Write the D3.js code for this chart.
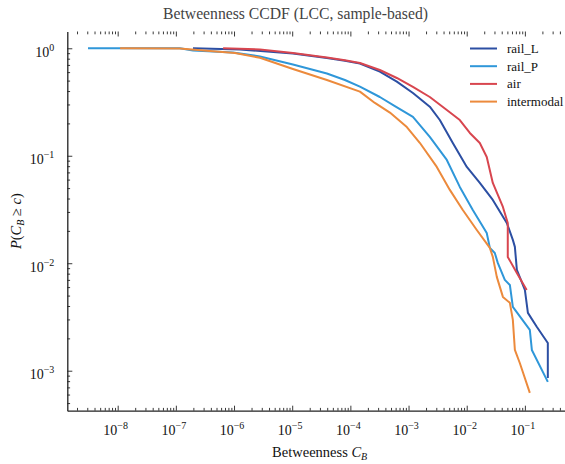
<!DOCTYPE html>
<html>
<head>
<meta charset="utf-8">
<script src="https://cdn.jsdelivr.net/npm/d3@7/dist/d3.min.js"></script>
<style>
  html, body { margin: 0; padding: 0; background: #fff; }
  svg { display: block; }
  text { font-family: "Liberation Serif", "DejaVu Serif", serif; }
</style>
</head>
<body>
<svg id="chart" width="565" height="464"></svg>
<script>
// Betweenness CCDF per network layer (largest connected component, sampled)
const seriesNames = ["rail_L", "rail_P", "air", "intermodal"];
const seriesColors = ["#2c4fa3", "#2f97d9", "#d8464f", "#ec8a3c"];

const railL_x = [1.97e-7, 1.26e-6, 1.03e-5, 3.95e-5, 8.05e-5, 1.46e-4, 3.21e-4, 6.29e-4, 1.19e-3, 2.32e-3, 3.45e-3, 5.77e-3, 0.01004, 0.0168, 0.0281, 0.0489, 0.0621, 0.0673, 0.0728, 0.100, 0.1127, 0.161, 0.248, 0.248];
const railL_y = [1.0, 0.975, 0.895, 0.812, 0.765, 0.722, 0.606, 0.489, 0.384, 0.286, 0.215, 0.1315, 0.0787, 0.0558, 0.0388, 0.0237, 0.0165, 0.0142, 0.00867, 0.00564, 0.00345, 0.00255, 0.00181, 0.000857];

const railP_x = [3.09e-9, 1.17e-7, 1.97e-7, 9.57e-7, 2.79e-6, 1.03e-5, 3.95e-5, 8.05e-5, 1.46e-4, 3.21e-4, 5.82e-4, 1.19e-3, 2.32e-3, 4.55e-3, 7.61e-3, 0.01273, 0.0221, 0.0250, 0.0304, 0.0342, 0.0452, 0.0552, 0.0621, 0.1216, 0.1318, 0.248];
const railP_y = [1.0, 1.0, 0.954, 0.914, 0.839, 0.707, 0.583, 0.507, 0.439, 0.352, 0.290, 0.2296, 0.1496, 0.0914, 0.0513, 0.0313, 0.0191, 0.0139, 0.01247, 0.01007, 0.00700, 0.00628, 0.00393, 0.00240, 0.00156, 0.000787];

const air_x = [6.49e-7, 2.79e-6, 1.03e-5, 3.95e-5, 8.05e-5, 1.46e-4, 3.21e-4, 6.29e-4, 1.19e-3, 2.32e-3, 4.55e-3, 7.61e-3, 0.01132, 0.0168, 0.0221, 0.0281, 0.0419, 0.0508, 0.0508, 0.0728, 0.1074];
const air_y = [1.0, 0.975, 0.904, 0.821, 0.773, 0.730, 0.628, 0.529, 0.4365, 0.352, 0.2667, 0.215, 0.163, 0.1315, 0.0975, 0.0558, 0.0334, 0.0237, 0.01145, 0.00813, 0.00564];

const inter_x = [1.10e-8, 1.17e-7, 3.86e-7, 1.04e-6, 2.79e-6, 1.03e-5, 3.95e-5, 1.46e-4, 2.64e-4, 4.78e-4, 9.35e-4, 1.56e-3, 3.06e-3, 5.13e-3, 8.57e-3, 0.0149, 0.0250, 0.0281, 0.0329, 0.0419, 0.0552, 0.0621, 0.0673, 0.0818, 0.1216];
const inter_y = [1.0, 0.994, 0.944, 0.904, 0.816, 0.642, 0.507, 0.395, 0.310, 0.252, 0.185, 0.132, 0.0787, 0.0481, 0.0313, 0.0204, 0.0139, 0.01145, 0.00747, 0.00486, 0.00428, 0.00297, 0.00156, 0.00118, 0.000622];

const seriesX = [railL_x, railP_x, air_x, inter_x];
const seriesY = [railL_y, railP_y, air_y, inter_y];

const xTickExps = [-8, -7, -6, -5, -4, -3, -2, -1];
const yTickExps = [0, -1, -2, -3];

const titleText = "Betweenness CCDF (LCC, sample-based)";

// Plot frame
const frameL = 67.3, frameR = 572, frameT = 31.5, frameB = 410.7;

const x = d3.scaleLog().domain([Math.pow(10, -8.866), Math.pow(10, -0.19)]).range([frameL, frameR]);
const y = d3.scaleLog().domain([Math.pow(10, -3.372), Math.pow(10, 0.156)]).range([frameB, frameT]);

const svg = d3.select("#chart");

function minorTicks(scale) {
  const [d0, d1] = scale.domain();
  const out = [];
  for (let e = Math.floor(Math.log10(d0)); e <= Math.ceil(Math.log10(d1)); e++) {
    for (let k = 2; k <= 9; k++) {
      const v = k * Math.pow(10, e);
      if (v >= d0 && v <= d1) out.push(v);
    }
  }
  return out;
}
function majorTicks(scale) {
  const [d0, d1] = scale.domain();
  const out = [];
  for (let e = Math.floor(Math.log10(d0)); e <= Math.ceil(Math.log10(d1)); e++) {
    const v = Math.pow(10, e);
    if (v >= d0 && v <= d1) out.push(v);
  }
  return out;
}

const tickColor = "#222";
function drawAxis(gen, scale, transform, keepDomain) {
  const gMaj = svg.append("g").attr("transform", transform)
    .call(gen(scale).tickValues(majorTicks(scale)).tickSizeInner(-5).tickSizeOuter(0).tickFormat(""));
  const gMin = svg.append("g").attr("transform", transform)
    .call(gen(scale).tickValues(minorTicks(scale)).tickSizeInner(-2.8).tickSizeOuter(0).tickFormat(""));
  gMin.select(".domain").remove();
  if (!keepDomain) gMaj.select(".domain").remove();
  else gMaj.select(".domain").attr("stroke", "#222").attr("stroke-width", 1.3);
  [gMaj, gMin].forEach(g => g.selectAll(".tick line").attr("stroke", tickColor).attr("stroke-width", 0.9));
}

// Series lines, clipped to the plot area
svg.append("clipPath").attr("id", "plotclip")
  .append("rect").attr("x", frameL).attr("y", frameT).attr("width", frameR - frameL).attr("height", frameB - frameT);

const line = d3.line().x(d => x(d[0])).y(d => y(d[1]));
const plot = svg.append("g").attr("clip-path", "url(#plotclip)");
seriesNames.forEach((name, i) => {
  const pts = seriesX[i].map((v, j) => [v, seriesY[i][j]]);
  plot.append("path")
    .datum(pts)
    .attr("d", line)
    .attr("fill", "none")
    .attr("stroke", seriesColors[i])
    .attr("stroke-width", 2)
    .attr("stroke-linejoin", "round");
});

// Axes: left & bottom spines, ticks on all four sides pointing inward
drawAxis(d3.axisBottom, x, `translate(0,${frameB})`, true);
drawAxis(d3.axisTop, x, `translate(0,${frameT})`, false);
drawAxis(d3.axisLeft, y, `translate(${frameL},0)`, true);
drawAxis(d3.axisRight, y, `translate(${frameR},0)`, false);

// Tick labels as powers of ten
const labelFont = 14, supFont = 10;
xTickExps.forEach(e => {
  const t = svg.append("text")
    .attr("x", x(Math.pow(10, e)) - 2)
    .attr("y", frameB + 24)
    .attr("text-anchor", "middle")
    .attr("fill", "#111")
    .attr("font-size", labelFont);
  t.append("tspan").text("10");
  t.append("tspan").attr("font-size", supFont).attr("dy", -6).text("\u2212" + Math.abs(e));
});
yTickExps.forEach(e => {
  const t = svg.append("text")
    .attr("x", frameL - 13)
    .attr("y", y(Math.pow(10, e)) + 8.5)
    .attr("text-anchor", "end")
    .attr("fill", "#111")
    .attr("font-size", labelFont);
  t.append("tspan").text("10");
  t.append("tspan").attr("font-size", supFont).attr("dy", -6).text(e === 0 ? "0" : "\u2212" + Math.abs(e));
});

// Title
svg.append("text")
  .attr("x", 295.5).attr("y", 19)
  .attr("text-anchor", "middle")
  .attr("fill", "#444")
  .attr("font-size", 15.7)
  .text(titleText);

// X axis label
const xl = svg.append("text")
  .attr("x", (frameL + frameR) / 2).attr("y", 457)
  .attr("text-anchor", "middle")
  .attr("fill", "#111")
  .attr("font-size", 14.5);
xl.append("tspan").text("Betweenness ");
xl.append("tspan").attr("font-style", "italic").text("C");
xl.append("tspan").attr("font-style", "italic").attr("font-size", 10).attr("dy", 3).text("B");

// Y axis label
const yl = svg.append("text")
  .attr("transform", `translate(21,${(frameT + frameB) / 2}) rotate(-90)`)
  .attr("text-anchor", "middle")
  .attr("fill", "#111")
  .attr("font-size", 14.5);
yl.append("tspan").attr("font-style", "italic").text("P");
yl.append("tspan").text("(");
yl.append("tspan").attr("font-style", "italic").text("C");
yl.append("tspan").attr("font-style", "italic").attr("font-size", 10).attr("dy", 3).text("B");
yl.append("tspan").attr("dy", -3).text(" \u2265 ");
yl.append("tspan").attr("font-style", "italic").text("c");
yl.append("tspan").text(")");

// Legend
const legend = svg.append("g");
seriesNames.forEach((name, i) => {
  const ly = 48.5 + i * 17.7;
  legend.append("line")
    .attr("x1", 470).attr("x2", 497).attr("y1", ly).attr("y2", ly)
    .attr("stroke", seriesColors[i]).attr("stroke-width", 2);
  legend.append("text")
    .attr("x", 507).attr("y", ly + 4.5)
    .attr("fill", "#111")
    .attr("font-size", 13)
    .text(name);
});
</script>
</body>
</html>
